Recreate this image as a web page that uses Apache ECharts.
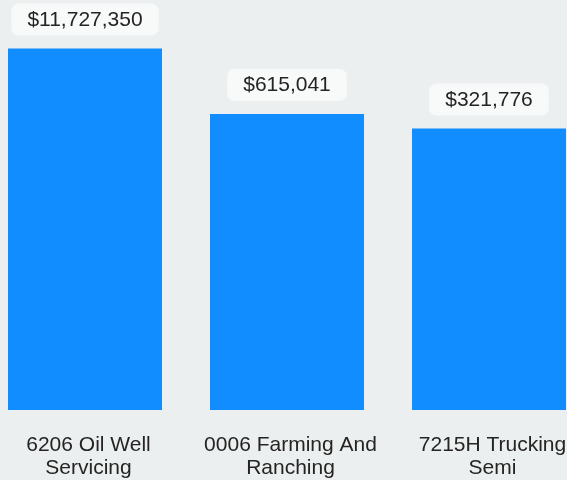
<!DOCTYPE html>
<html>
<head>
<meta charset="utf-8">
<script src="https://cdn.jsdelivr.net/npm/echarts@6/dist/echarts.min.js"></script>
<style>
  html, body { margin: 0; padding: 0; background: #eceff0; overflow: hidden; width: 567px; height: 480px; }
  #main { width: 606px; height: 480px; margin-left: -16px; }
</style>
</head>
<body>
<div id="main"></div>
<script>
// categories and values
var categories = ['6206 Oil Well\nServicing', '0006 Farming And\nRanching', '7215H Trucking\nSemi'];
var premiums = [11727350, 615041, 321776];

function money(v) {
    return '$' + v.toLocaleString('en-US');
}

var myChart = echarts.init(document.getElementById('main'));

var option = {
    backgroundColor: '#eceff0',
    textStyle: { fontFamily: '"Liberation Sans", Arial, sans-serif' },
    grid: { left: 0, right: 0, top: 1, bottom: 70, containLabel: false, outerBoundsMode: 'none' },
    xAxis: {
        type: 'category',
        data: categories,
        axisLine: { show: false },
        axisTick: { show: false },
        axisLabel: {
            interval: 0,
            margin: 24,
            fontSize: 21,
            lineHeight: 23,
            color: '#252423',
            fontFamily: '"Liberation Sans", Arial, sans-serif',
            padding: [0, 0, 0, 7]
        }
    },
    yAxis: {
        type: 'log',
        min: 1,
        max: 100000000,
        show: false
    },
    series: [{
        type: 'bar',
        data: premiums,
        barWidth: 154,
        itemStyle: { color: '#118dff' },
        label: {
            show: true,
            position: 'top',
            distance: 13,
            formatter: function (p) { return money(p.value); },
            fontSize: 21,
            fontFamily: '"Liberation Sans", Arial, sans-serif',
            color: '#252423',
            backgroundColor: '#f8f9f9',
            borderRadius: 7,
            padding: [6, 16, 5, 16]
        }
    }]
};

myChart.setOption(option);
</script>
</body>
</html>
